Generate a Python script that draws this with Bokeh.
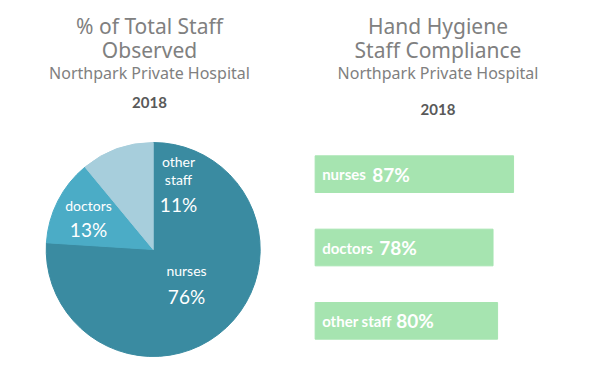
import math
from bokeh.plotting import figure
from bokeh.models import Range1d, FactorRange, ColumnDataSource
from bokeh.layouts import row, column
from bokeh.core.properties import value
from bokeh.embed import file_html
from bokeh.resources import INLINE

# ---- data ----
pie_categories = ["nurses", "doctors", "other staff"]
pie_values = [76, 13, 11]
pie_colors = ["#3A8BA1", "#4BACC6", "#A7CEDC"]

bar_categories = ["nurses", "doctors", "other staff"]
bar_values = [87, 78, 80]

left_title = ["% of Total Staff", "Observed"]
right_title = ["Hand Hygiene", "Staff Compliance"]
subtitle = "Northpark Private Hospital"
year = "2018"

TITLE_FONT = value("Noto Sans")
LABEL_FONT = value("Lato")
GRAY = "#808080"
DARK = "#595959"


def base_fig(w, h, xr, yr):
    p = figure(width=w, height=h, x_range=xr, y_range=yr, output_backend="svg",
               toolbar_location=None, min_border=0)
    p.axis.visible = False
    p.grid.visible = False
    p.outline_line_color = None
    return p


def header(p, cx, ys, lines):
    p.text(x=[cx], y=[ys[0]], text=[lines[0]], text_font=TITLE_FONT, text_font_size="21px",
           text_color=GRAY, text_align="center", text_baseline="alphabetic")
    p.text(x=[cx], y=[ys[1]], text=[lines[1]], text_font=TITLE_FONT, text_font_size="21px",
           text_color=GRAY, text_align="center", text_baseline="alphabetic")
    p.text(x=[cx], y=[ys[2]], text=[subtitle], text_font=TITLE_FONT, text_font_size="16px",
           text_color=GRAY, text_align="center", text_baseline="alphabetic")
    p.text(x=[cx], y=[ys[3]], text=[year], text_font=LABEL_FONT, text_font_size="15px",
           text_font_style="bold", text_color=DARK, text_align="center",
           text_baseline="alphabetic")


# ---- left: pie ----
pL = base_fig(298, 373, Range1d(-8, 290), Range1d(-8, 365))
header(pL, 141, [340, 316, 293, 263], left_title)

total = sum(pie_values)
starts, ends = [], []
acc = 0.0
for v in pie_values:
    starts.append(math.pi / 2 - 2 * math.pi * acc / total)
    acc += v
    ends.append(math.pi / 2 - 2 * math.pi * acc / total)
pie_src = ColumnDataSource(dict(cat=pie_categories, val=pie_values, start=starts, end=ends,
                                color=pie_colors))
pL.wedge(x=144.7, y=116, radius=107, start_angle="start", end_angle="end", direction="clock",
         fill_color="color", line_color="color", source=pie_src)

# label layout (name lines, percent) per slice
label_xy = {"nurses": (178, [95], 69), "doctors": (80, [160], 136),
            "other staff": (170, [204, 186], 161)}
for cat, v in zip(pie_categories, pie_values):
    lx, name_ys, pct_y = label_xy[cat]
    words = cat.split(" ") if len(name_ys) > 1 else [cat]
    for w, yy in zip(words, name_ys):
        pL.text(x=[lx], y=[yy], text=[w], text_font=LABEL_FONT, text_font_size="14px",
                text_color="white", text_align="center", text_baseline="alphabetic")
    pL.text(x=[lx], y=[pct_y], text=[f"{v}%"], text_font=LABEL_FONT, text_font_size="19px",
            text_color="white", text_align="center", text_baseline="alphabetic")

# ---- right: header + bars ----
pH = base_fig(291, 137, Range1d(0, 291), Range1d(0, 137))
header(pH, 139.5, [112, 88, 65, 28], right_title)

factors = list(reversed(bar_categories))
pB = figure(width=291, height=236, x_range=Range1d(-7.3, 120.3),
            y_range=FactorRange(factors=factors, range_padding=0),
            output_backend="svg", toolbar_location=None,
            min_border_left=0, min_border_right=0, min_border_top=0, min_border_bottom=16)
pB.axis.visible = False
pB.grid.visible = False
pB.outline_line_color = None

bar_src = ColumnDataSource(dict(cat=bar_categories, val=bar_values,
                                pct=[f"{v}%" for v in bar_values],
                                val_off=[57, 64, 81]))
pB.hbar(y="cat", left=0, right="val", height=0.5, fill_color="#A6E4B0", line_color="#A6E4B0",
        source=bar_src)
pB.text(x=0, y="cat", text="cat", x_offset=7, y_offset=0, text_font=LABEL_FONT,
        text_font_size="15px", text_font_style="bold", text_color="white",
        text_baseline="alphabetic", source=bar_src)
pB.text(x=0, y="cat", text="pct", x_offset="val_off", y_offset=0, text_font=LABEL_FONT,
        text_font_size="19px", text_font_style="bold", text_color="white",
        text_baseline="alphabetic", source=bar_src)

layout = row(pL, column(pH, pB, spacing=0), spacing=0)
open("out.html", "w").write(file_html(layout, INLINE))
